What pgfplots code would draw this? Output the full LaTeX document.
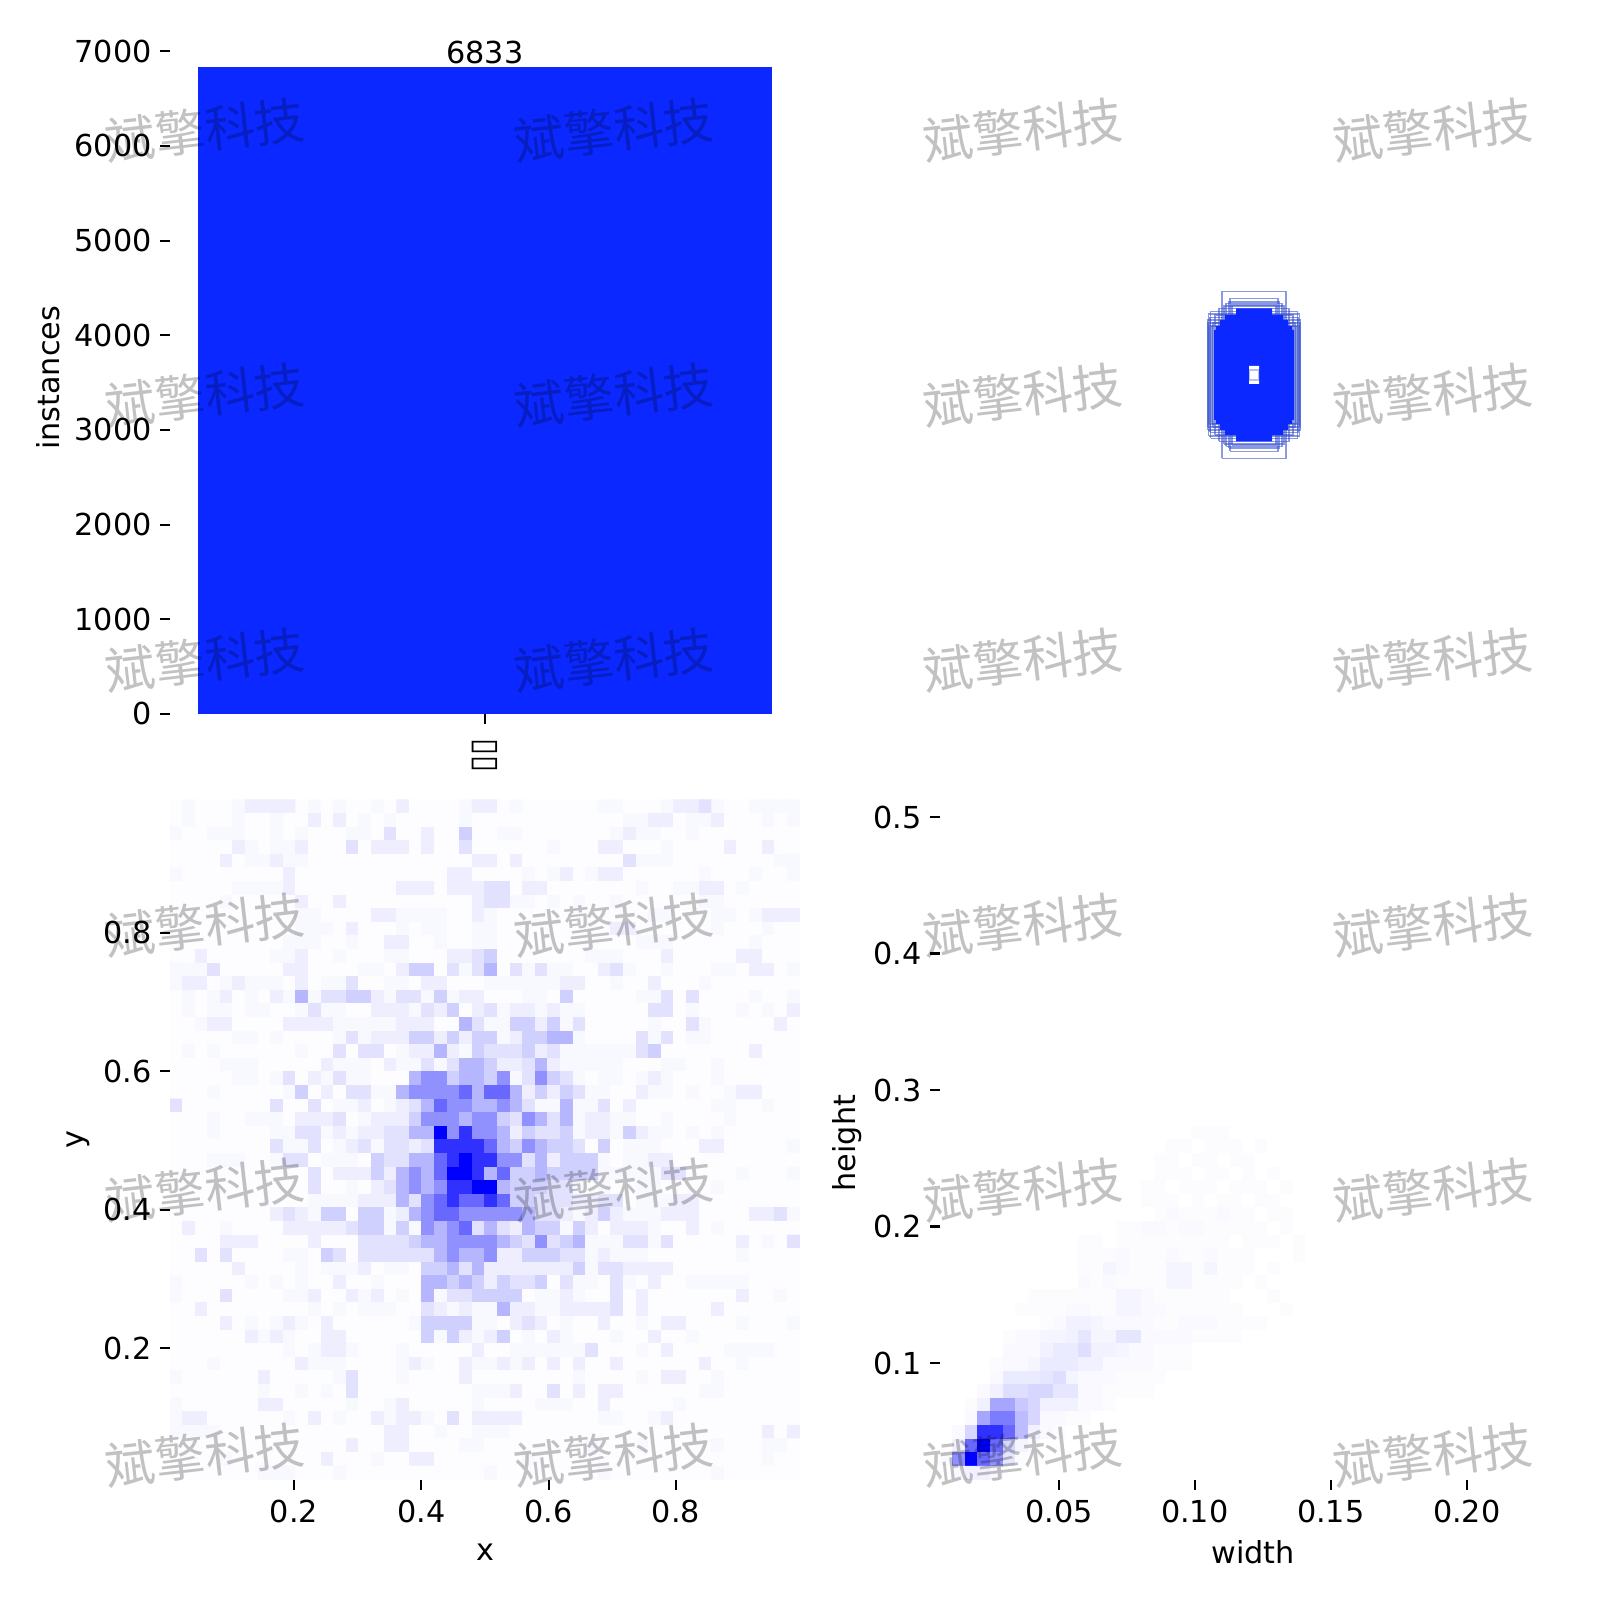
\documentclass[border=0pt]{standalone}
\usepackage{pgfplots}
\pgfplotsset{compat=1.18}
\usepackage{fontspec}
\usepackage{graphicx}
\setmainfont{DejaVu Sans}
\newfontfamily\cjk{Noto Sans CJK SC}
\definecolor{barblue}{RGB}{10,40,255}
\definecolor{boxedge}{RGB}{60,85,205}
\pgfplotsset{colormap={cells}{rgb255(0)=(255,255,255) rgb255(1)=(249,249,255) rgb255(2)=(241,241,255) rgb255(3)=(230,230,255) rgb255(4)=(214,214,255) rgb255(5)=(188,188,255) rgb255(6)=(144,144,255) rgb255(7)=(104,104,255) rgb255(8)=(48,48,255) rgb255(9)=(0,0,255)}}
\pgfplotsset{colormap={cellsA}{rgb255(0)=(253,253,255) rgb255(1)=(248,248,255) rgb255(2)=(238,238,255) rgb255(3)=(226,226,255) rgb255(4)=(208,208,255) rgb255(5)=(182,182,255) rgb255(6)=(144,144,255) rgb255(7)=(104,104,255) rgb255(8)=(48,48,255) rgb255(9)=(0,0,255)}}
\pgfplotsset{com/.style={axis x line*=bottom,axis y line*=left,axis line style={draw=none},scale only axis,width=3.15in,tick align=outside,major tick length=3.5bp,tick style={black,line width=0.8bp},/pgf/number format/assume math mode=true,/pgf/number format/1000 sep={},xlabel style={anchor=center},ylabel style={anchor=center,rotate=0},yticklabel style={xshift=0.01in}}}
\newcount\cx \newcount\cy
\def\addcell#1{\pgfmathparse{\xo+(\the\cx+0.5)*\dxx}\let\xv\pgfmathresult\pgfmathparse{\yo-(\the\cy+0.5)*\dyy}\let\yv\pgfmathresult\edef\rowd{\rowd(\xv,\yv)[#1] }\advance\cx by 1 }
\def\scan#1 {\ifx x#1\else\addcell{#1}\expandafter\scan\fi}
\def\R#1{\cx=0 \def\rowd{}\scan#1 x \xdef\griddata{\griddata\rowd}\advance\cy by 1 }
% x, y histogram: 50 x 50 cells, top row first, shade levels 0-9
\def\xo{0.00525}\def\dxx{0.01979}\def\yo{0.9922}\def\dyy{0.01966}
\gdef\griddata{}\cy=0
\R{0 1 0 0 0 1 2 2 2 2 0 1 0 1 0 0 1 0 2 0 0 0 0 1 2 2 0 1 0 0 0 0 0 0 1 1 0 0 0 1 2 2 3 1 0 0 1 1 1 1}
\R{0 1 0 0 0 1 0 0 1 0 0 2 0 2 0 1 0 1 0 0 0 0 0 1 0 0 0 0 0 0 0 0 0 0 0 0 1 1 2 2 0 1 1 2 0 0 0 1 0 1}
\R{1 0 0 1 1 1 0 0 1 0 1 0 0 0 1 1 0 3 0 0 2 0 0 4 0 0 1 1 0 0 0 0 0 0 0 1 2 1 1 0 0 1 0 0 0 0 0 0 0 0}
\R{0 0 0 0 0 2 1 0 1 1 2 0 0 0 3 0 2 2 2 0 2 0 0 3 0 0 0 0 0 0 1 0 0 0 2 2 0 0 0 1 0 0 0 0 2 0 0 2 0 0}
\R{0 0 0 0 2 0 1 1 2 1 1 0 0 0 0 0 0 0 0 0 0 0 0 0 2 2 0 2 0 0 0 0 0 0 0 0 3 1 1 1 0 0 0 0 0 0 0 0 1 1}
\R{1 0 0 0 0 0 0 0 0 2 0 0 0 0 0 0 0 0 0 0 0 0 2 2 0 0 0 0 1 0 1 2 0 1 2 2 0 0 0 0 0 0 1 0 0 0 1 0 0 1}
\R{0 0 0 0 0 1 1 1 1 2 0 0 0 0 0 0 0 0 2 2 2 0 2 2 2 3 3 0 2 2 0 0 0 0 0 0 0 1 0 0 1 1 2 2 0 1 0 0 0 0}
\R{0 0 0 0 1 0 0 0 0 0 2 0 0 2 0 0 0 0 0 0 0 0 0 0 2 3 3 1 1 0 1 0 1 0 0 1 0 0 0 0 0 0 1 1 0 0 0 0 0 0}
\R{0 0 0 0 0 0 0 0 0 0 1 1 0 0 0 0 2 2 1 1 1 1 0 0 2 1 0 0 0 0 0 0 0 0 0 0 0 0 1 1 0 0 0 1 1 0 1 2 2 2}
\R{0 0 0 0 0 0 0 0 0 0 1 1 1 0 2 0 0 0 1 0 1 1 0 0 1 1 0 0 0 0 0 0 0 0 0 2 2 0 0 0 0 0 0 1 0 0 0 1 0 0}
\R{0 0 0 0 0 0 0 0 0 1 1 1 0 0 1 0 0 2 2 0 0 1 0 0 1 1 0 0 0 0 0 0 0 0 0 0 0 1 1 1 0 0 0 0 0 0 1 0 0 0}
\R{0 0 2 0 0 0 0 0 1 1 2 0 0 1 0 0 0 1 1 0 0 0 2 2 3 4 0 0 0 0 0 0 0 1 1 1 0 0 0 2 0 0 0 0 0 2 2 0 0 0}
\R{1 1 1 3 0 0 0 0 0 2 2 0 0 0 0 1 1 0 2 4 4 0 3 1 3 5 0 3 1 3 1 1 0 0 2 3 1 0 0 1 0 0 0 1 1 0 2 2 0 1}
\R{1 2 2 0 1 2 1 1 1 0 2 0 1 1 3 0 0 1 1 0 2 2 0 0 0 1 1 1 1 1 1 2 2 0 0 1 0 0 2 0 0 0 1 0 0 0 0 0 0 0}
\R{0 1 0 1 2 0 1 0 2 1 5 1 3 3 4 4 2 1 3 3 1 4 1 2 2 0 0 0 1 1 0 4 0 0 0 0 0 1 1 3 0 3 0 0 0 0 1 0 0 1}
\R{0 1 0 1 1 0 1 1 0 0 1 3 1 1 0 0 2 2 2 1 3 2 4 0 2 3 1 2 2 1 2 1 1 0 0 0 0 0 3 3 0 1 0 0 0 1 0 1 0 2}
\R{0 0 1 2 2 0 0 0 0 2 2 2 2 1 1 1 1 1 2 2 2 0 0 5 3 1 1 4 4 2 4 1 3 0 0 0 0 0 1 0 0 3 1 0 0 0 0 0 2 0}
\R{0 0 0 0 0 1 1 0 1 0 0 0 0 1 3 1 2 2 2 4 4 2 4 2 4 4 1 2 4 4 5 5 1 0 0 0 0 3 1 3 0 1 1 0 0 0 0 0 0 0}
\R{0 1 0 1 0 0 0 0 0 0 1 0 0 3 0 3 3 0 1 2 2 5 2 1 4 3 3 3 4 2 3 1 1 1 1 1 1 3 4 0 0 0 0 0 0 0 2 0 0 0}
\R{0 0 0 0 1 1 1 0 0 0 0 0 2 1 1 1 0 2 1 1 3 1 3 5 5 4 2 2 3 5 2 1 1 1 1 1 0 0 0 1 1 0 0 1 0 0 0 0 0 0}
\R{0 0 0 0 0 1 1 0 1 3 0 2 1 3 1 1 0 0 0 5 6 6 4 5 5 4 6 1 3 6 4 3 1 0 1 1 0 1 2 1 0 0 0 1 0 0 0 0 0 0}
\R{0 0 0 1 0 0 0 0 0 1 4 0 2 0 3 3 1 1 5 6 6 6 6 7 5 7 7 5 2 4 2 4 3 1 1 0 0 2 1 1 0 1 0 0 1 2 2 0 0 0}
\R{3 0 0 0 0 0 0 0 3 0 0 3 0 1 1 2 0 1 2 3 5 7 6 6 5 5 6 5 3 1 1 5 1 1 3 0 2 0 0 0 0 0 0 1 1 0 0 1 0 0}
\R{0 0 0 1 0 0 1 1 1 0 2 2 2 3 0 1 2 2 2 4 6 6 6 5 6 6 4 3 6 5 3 5 1 2 2 1 1 0 0 1 0 0 0 0 1 0 0 0 0 0}
\R{0 0 0 1 0 0 0 0 1 1 3 3 1 2 1 2 2 3 3 5 5 9 6 8 6 6 5 2 4 3 3 4 1 2 2 1 4 2 1 1 0 1 0 1 0 0 0 0 0 0}
\R{0 0 0 0 0 0 0 0 3 1 1 3 0 1 2 3 1 3 3 2 3 8 8 8 8 7 5 4 6 5 4 4 3 0 4 0 1 1 1 0 0 0 2 2 0 0 0 0 0 1}
\R{0 0 0 1 1 1 0 0 1 3 3 0 1 1 1 0 4 3 3 5 5 7 8 9 8 8 6 6 3 5 2 4 4 4 1 0 1 1 2 2 0 0 0 0 0 0 0 0 0 0}
\R{0 0 0 0 0 0 0 0 0 0 0 3 0 2 2 2 4 2 5 6 5 7 9 9 8 5 7 4 4 5 4 4 4 4 1 1 1 1 1 3 3 0 0 0 0 1 0 0 0 1}
\R{0 0 0 0 0 0 0 0 0 0 0 3 0 0 1 0 2 3 5 6 5 6 8 8 9 9 5 4 4 4 3 3 1 0 1 0 0 1 1 0 0 0 0 1 0 0 0 0 0 0}
\R{0 0 0 0 0 0 0 0 0 0 0 1 1 1 1 2 2 2 5 3 6 7 8 7 7 8 7 4 4 3 3 3 2 2 3 3 0 1 1 1 2 2 0 0 0 0 0 0 0 0}
\R{0 0 0 0 0 0 0 0 2 3 2 1 4 4 0 4 4 1 2 5 6 7 7 6 6 6 6 6 5 3 3 2 1 2 4 2 1 1 1 2 2 2 0 0 0 0 2 2 3 1}
\R{0 2 0 0 1 0 0 0 0 2 2 2 2 2 3 4 4 1 4 1 6 5 6 7 3 5 3 2 5 4 4 1 4 2 0 2 2 2 1 0 0 2 0 1 0 0 0 0 0 0}
\R{0 0 0 0 2 2 2 0 0 0 0 2 0 0 0 3 3 3 3 4 5 5 6 6 6 6 5 4 3 6 3 4 5 1 1 1 3 3 1 3 0 0 0 0 0 2 0 1 0 3}
\R{0 0 3 0 3 0 0 0 0 1 1 0 4 3 0 3 3 3 3 3 3 5 6 5 5 6 2 2 4 4 4 3 3 1 2 1 1 1 0 0 0 0 0 0 0 1 0 0 0 0}
\R{0 0 0 0 0 2 0 0 0 0 1 0 1 1 1 2 0 1 1 0 4 4 5 3 5 2 2 2 2 2 2 2 4 1 3 3 2 2 2 2 0 0 0 0 0 0 0 0 0 0}
\R{1 0 0 0 0 0 1 0 1 0 1 0 0 2 0 0 1 0 0 0 5 5 4 5 4 2 4 3 3 4 0 3 1 1 0 3 1 0 2 0 0 1 1 1 1 1 0 0 0 0}
\R{1 0 0 0 3 0 0 0 0 1 1 2 0 0 2 1 2 0 1 0 5 1 3 3 4 4 4 4 0 1 1 2 1 0 0 3 0 2 0 0 0 0 0 0 0 2 0 0 1 0}
\R{0 0 2 0 0 0 0 0 0 0 0 1 0 1 0 1 1 1 0 0 3 2 1 2 1 1 5 2 2 1 1 2 2 2 2 3 0 2 0 0 0 0 0 2 0 0 0 0 0 0}
\R{0 0 0 0 2 0 1 0 1 2 1 0 2 0 0 0 0 0 0 1 4 4 4 4 1 1 0 2 3 2 0 1 0 0 2 0 0 1 0 2 2 0 0 0 0 1 0 0 0 1}
\R{0 0 0 0 0 0 2 1 2 1 0 0 2 2 0 0 0 0 0 0 4 1 4 2 1 2 4 0 1 0 2 1 0 0 0 1 0 0 2 0 0 1 0 0 0 0 0 0 0 0}
\R{0 0 0 0 0 0 0 0 0 1 0 1 2 2 1 0 0 0 1 0 0 0 0 0 2 0 0 1 1 1 1 1 1 3 0 0 0 1 0 2 0 0 0 0 1 1 1 1 0 0}
\R{0 0 0 1 0 0 0 0 0 0 2 1 1 1 0 0 0 0 1 2 1 0 0 2 1 1 2 1 2 0 2 0 2 0 0 2 0 0 0 0 0 0 2 0 0 1 0 0 0 0}
\R{1 0 0 0 0 0 0 2 0 0 0 0 0 1 3 0 0 0 1 0 0 0 0 2 0 0 0 0 0 0 0 0 1 0 0 0 0 1 0 2 2 0 0 1 0 0 0 0 0 0}
\R{0 0 0 0 0 0 0 1 0 0 1 0 1 0 3 0 0 0 0 0 0 0 0 0 1 1 1 2 0 0 3 0 2 0 2 2 0 0 0 0 0 0 1 1 0 0 0 0 0 0}
\R{1 0 0 0 0 0 0 2 2 0 0 0 0 0 1 0 0 1 2 0 0 0 0 0 1 0 0 0 0 1 1 1 0 0 2 0 0 0 0 0 1 0 0 0 0 0 0 0 0 0}
\R{1 2 2 0 0 0 0 0 0 1 0 2 0 1 0 0 2 1 2 2 1 0 3 0 2 2 2 2 0 0 0 0 0 0 1 1 0 0 1 2 0 0 0 0 0 0 0 0 0 0}
\R{1 1 1 1 0 0 0 0 0 0 0 0 0 0 0 0 0 2 2 0 0 1 0 0 1 1 1 0 0 0 0 0 0 0 0 0 0 0 0 0 0 0 0 0 0 0 0 2 0 2}
\R{0 0 0 0 0 0 0 0 0 0 0 0 0 0 2 0 0 2 2 0 0 0 0 1 1 0 0 0 0 0 0 0 0 1 0 0 0 1 0 0 0 0 0 1 0 0 0 1 1 0}
\R{0 0 0 0 1 0 0 0 0 0 0 0 2 0 0 0 1 0 0 2 2 0 0 0 0 0 0 0 1 0 0 0 0 0 0 0 0 0 0 0 0 0 0 0 0 0 0 1 0 0}
\R{0 0 0 0 0 0 0 1 1 1 0 0 0 1 0 0 0 0 0 0 0 0 0 0 0 1 0 0 0 0 0 0 0 0 1 0 0 0 0 0 0 0 0 1 0 0 0 0 0 0}
\let\gridXY\griddata
% width, height histogram: 30 columns from the left, rows 24 to 49
\def\xo{0.0063}\def\dxx{0.004634}\def\yo{0.5125}\def\dyy{0.00996}
\gdef\griddata{}\cy=24
\R{0 0 0 0 0 0 0 0 0 0 0 0 0 0 0 0 0 0 0 0 .5 .5 .5 0 0 0 0 0 0 0}
\R{0 0 0 0 0 0 0 0 0 0 0 0 0 0 0 0 0 0 .5 .5 0 .5 .5 .5 0 .5 0 0 0 0}
\R{0 0 0 0 0 0 0 0 0 0 0 0 0 0 0 0 0 .5 .5 0 .5 .5 0 .5 .5 0 0 0 0 0}
\R{0 0 0 0 0 0 0 0 0 0 0 0 0 0 0 0 0 .5 .5 .5 0 .5 .5 0 .5 0 .5 0 0 0}
\R{0 0 0 0 0 0 0 0 0 0 0 0 0 0 0 0 .5 .5 0 .5 .5 .5 0 .5 .5 .5 0 .5 0 0}
\R{0 0 0 0 0 0 0 0 0 0 0 0 0 0 0 0 .5 .5 .5 0 .5 0 .5 .5 0 .5 .5 0 0 0}
\R{0 0 0 0 0 0 0 0 0 0 0 0 0 0 0 0 0 .5 1 .5 .5 .5 1 .5 .5 0 .5 .5 0 0}
\R{0 0 0 0 0 0 0 0 0 0 0 0 0 0 .5 .5 1 1 .5 1 1 .5 .5 .5 .5 .5 0 .5 0 0}
\R{0 0 0 0 0 0 0 0 0 0 0 .5 .5 0 .5 .5 .5 .5 .5 .5 .5 .5 .5 0 .5 .5 .5 0 .5 0}
\R{0 0 0 0 0 0 0 0 0 0 0 .5 .5 .5 1 .5 .5 .5 1 .5 .5 1 .5 .5 .5 0 0 0 .5 0}
\R{0 0 0 0 0 0 0 0 0 0 0 .5 .5 1.5 1 .5 .5 .5 1.5 1.5 .5 1.5 .5 .5 .5 0 .5 0 0 0}
\R{0 0 0 0 0 0 0 0 0 0 0 1 .5 1 .5 .5 .5 .5 1.5 1.5 .5 .5 .5 .5 0 .5 0 0 0 0}
\R{0 0 0 0 0 0 0 .5 .5 .5 .5 .5 .5 .5 1.5 1.5 1 .5 .5 .5 .5 .5 .5 0 0 0 .5 0 0 0}
\R{0 0 0 0 0 0 .5 .5 .5 .5 1 1 .5 .5 1.5 1.5 1 1 .5 .5 .5 .5 .5 .5 0 0 0 .5 0 0}
\R{0 0 0 0 0 0 0 0 .5 1 2 2 1.5 1 1 1 1 .5 .5 1 1 1 .5 .5 .5 .5 0 0 0 0}
\R{0 0 0 0 0 .5 1 1 1.5 1.5 2 3 1.5 1.5 3 3 1 1 1 1 .5 .5 .5 .5 0 0 0 0 0 0}
\R{0 0 0 0 0 1 1 1 2 2.5 2.5 3.5 2 2 1.5 1 1 .5 .5 .5 0 0 0 0 0 0 0 0 0 0}
\R{0 0 0 0 .5 1 1 1.5 2.5 2.5 2.5 2 2 1 1 1 1 .5 .5 .5 0 0 0 0 0 0 0 0 0 0}
\R{0 0 0 0 1 2.5 2.5 2.5 3 3.5 1.5 1 1 1 .5 .5 .5 .5 0 0 0 0 0 0 0 0 0 0 0 0}
\R{0 0 0 1 2 3.5 3.5 4 4 3 3 1 1 .5 .5 .5 .5 0 0 0 0 0 0 0 0 0 0 0 0 0}
\R{0 0 .5 2 5.5 5.5 4.5 4 2 2 2 1 1 .5 0 0 0 0 0 0 0 0 0 0 0 0 0 0 0 0}
\R{0 0 1 5.5 6.5 6.5 5 4 1 1 .5 .5 0 0 0 0 0 0 0 0 0 0 0 0 0 0 0 0 0 0}
\R{0 1 4 8 8 7 5 2 1 .5 0 0 0 0 0 0 0 0 0 0 0 0 0 0 0 0 0 0 0 0}
\R{0 2 7 9 7 4 1.5 .5 0 0 0 0 0 0 0 0 0 0 0 0 0 0 0 0 0 0 0 0 0 0}
\R{1 6 9 7 6 3 .5 0 0 0 0 0 0 0 0 0 0 0 0 0 0 0 0 0 0 0 0 0 0 0}
\R{0 1 2 2 1 0 0 0 0 0 0 0 0 0 0 0 0 0 0 0 0 0 0 0 0 0 0 0 0 0}
\let\gridWH\griddata
\newcommand\fb[3][barblue]{\addplot[fill=#1,draw=none] coordinates {(-#2,-#3)(#2,-#3)(#2,#3)(-#2,#3)(-#2,-#3)};}
\newcommand\bx[2]{\addplot[draw=boxedge,draw opacity=0.6,line width=0.45pt] coordinates {(-#1,-#2)(#1,-#2)(#1,#2)(-#1,#2)(-#1,-#2)};}
\begin{document}
\fontsize{10.93pt}{13pt}\selectfont
\begin{tikzpicture}
\useasboundingbox (0,0) rectangle (8in,8in);
% top left: instances
\begin{axis}[com,at={(0.85in,4.43in)},anchor=south west,height=3.41in,
  xmin=-0.494,xmax=0.494,ymin=0,ymax=7204,
  xtick={0},xticklabels={\scalebox{1.02}[1.1]{▯▯}},xticklabel style={yshift=-0.02in,rotate=90,anchor=east},
  ytick={0,1000,2000,3000,4000,5000,6000,7000},
  ylabel={instances},ylabel style={at={(axis description cs:-0.194,0.4927)}},
  nodes near coords,nodes near coords style={anchor=south,inner sep=1pt,/pgf/number format/1000 sep={},/pgf/number format/assume math mode=true}]
\addplot[ybar,bar width=0.9,fill=barblue,draw=none] coordinates {(0,6833)};
\end{axis}
% top right: boxes
\begin{axis}[at={(4.7in,4.41in)},anchor=south west,scale only axis,width=3.15in,height=3.43in,hide axis,xmin=-314,xmax=316,ymin=-343,ymax=343]
\bx{32}{83.5}\bx{24}{76.5}\bx{25.5}{73}\bx{22}{70}\bx{43.5}{63.5}\bx{46.5}{55}\bx{42}{48.5}\bx{45.5}{61}\bx{44}{57.5}\bx{35}{66.5}\bx{30}{69}\bx{28}{71.5}\bx{39}{60}\bx{41}{52}\bx{46}{52}\bx{45}{49}
\fb{38}{49}\fb{29}{60}\fb{18}{66.5}\fb{34}{55}\fb{40}{45}
\fb[white]{5}{9}
\addplot[draw=barblue,draw opacity=0.3,line width=0.4pt] coordinates {(-5,-5)(5,-5)(5,5)(-5,5)(-5,-5)};
\end{axis}
% bottom left: x, y
\begin{axis}[com,at={(0.85in,0.6in)},anchor=south west,height=3.4in,
  xmin=0.00525,xmax=0.9947,ymin=0.00925,ymax=0.9922,
  xtick={0.2,0.4,0.6,0.8},ytick={0.2,0.4,0.6,0.8},
  xlabel={x},ylabel={y},
  xlabel style={at={(axis description cs:0.5,-0.106)}},ylabel style={at={(axis description cs:-0.146,0.5)}},
  colormap name=cellsA,point meta min=0,point meta max=9]
\edef\temp{\noexpand\addplot[matrix plot*,mesh/cols=50,point meta=explicit] coordinates {\gridXY};}\temp
\end{axis}
% bottom right: width, height
\begin{axis}[com,at={(4.7in,0.6in)},anchor=south west,height=3.4in,
  xmin=0.0063,xmax=0.238,ymin=0.0143,ymax=0.5125,
  xtick={0.05,0.10,0.15,0.20},ytick={0.1,0.2,0.3,0.4,0.5},
  xticklabel style={/pgf/number format/fixed,/pgf/number format/fixed zerofill,/pgf/number format/precision=2},
  xlabel={width},ylabel={height},
  xlabel style={at={(axis description cs:0.497,-0.106)}},ylabel style={at={(axis description cs:-0.148,0.4956)}},
  colormap name=cells,point meta min=0,point meta max=9]
\edef\temp{\noexpand\addplot[matrix plot*,mesh/cols=30,point meta=explicit] coordinates {\gridWH};}\temp
\end{axis}
% watermark
\foreach \wx in {1.025,3.07,5.115,7.165}{
  \foreach \wy in {7.35,6.025,4.70,3.375,2.05,0.725}{
    \node[rotate=6.5,text=black,text opacity=0.24,inner sep=0,font=\fontsize{18bp}{20bp}\selectfont\cjk] at (\wx in,\wy in) {斌擎科技};
  }
}
\end{tikzpicture}
\end{document}
